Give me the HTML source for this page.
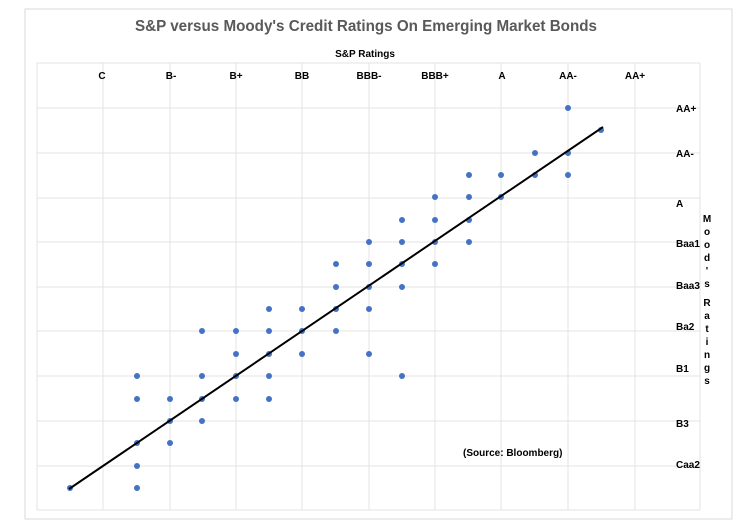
<!DOCTYPE html>
<html><head><meta charset="utf-8"><style>
body{margin:0;background:#fff;}
svg{display:block;font-family:"Liberation Sans",sans-serif;}
</style></head><body>
<svg width="750" height="529" viewBox="0 0 750 529">
<rect x="25" y="9" width="707" height="510" fill="#fff" stroke="#d9d9d9" stroke-width="1"/>
<text x="135" y="31" textLength="462" lengthAdjust="spacingAndGlyphs" font-size="16" font-weight="bold" fill="#595959">S&amp;P versus Moody's Credit Ratings On Emerging Market Bonds</text>
<text x="365" y="57" text-anchor="middle" font-size="10" font-weight="bold" fill="#000">S&amp;P Ratings</text>
<g stroke="#e3e3e3" stroke-width="1">
<line x1="37" y1="63" x2="700" y2="63"/>
<line x1="37" y1="108" x2="700" y2="108"/>
<line x1="37" y1="153" x2="700" y2="153"/>
<line x1="37" y1="198" x2="700" y2="198"/>
<line x1="37" y1="242" x2="700" y2="242"/>
<line x1="37" y1="287" x2="700" y2="287"/>
<line x1="37" y1="331" x2="700" y2="331"/>
<line x1="37" y1="376" x2="700" y2="376"/>
<line x1="37" y1="421" x2="700" y2="421"/>
<line x1="37" y1="466" x2="700" y2="466"/>
<line x1="37" y1="510" x2="700" y2="510"/>
<line x1="37" y1="63" x2="37" y2="510"/>
<line x1="103" y1="63" x2="103" y2="510"/>
<line x1="170" y1="63" x2="170" y2="510"/>
<line x1="236" y1="63" x2="236" y2="510"/>
<line x1="302" y1="63" x2="302" y2="510"/>
<line x1="369" y1="63" x2="369" y2="510"/>
<line x1="435" y1="63" x2="435" y2="510"/>
<line x1="501" y1="63" x2="501" y2="510"/>
<line x1="568" y1="63" x2="568" y2="510"/>
<line x1="635" y1="63" x2="635" y2="510"/>
<line x1="700" y1="63" x2="700" y2="510"/>
</g>
<g font-size="10" font-weight="bold" fill="#000" text-anchor="middle">
<text x="102" y="79">C</text><text x="171" y="79">B-</text><text x="236" y="79">B+</text>
<text x="302" y="79">BB</text><text x="369" y="79">BBB-</text><text x="435" y="79">BBB+</text>
<text x="502" y="79">A</text><text x="568" y="79">AA-</text><text x="635" y="79">AA+</text>
</g>
<g font-size="10" font-weight="bold" fill="#000">
<text x="676" y="112">AA+</text><text x="676" y="157">AA-</text><text x="676" y="207">A</text>
<text x="676" y="247">Baa1</text><text x="676" y="289">Baa3</text><text x="676" y="330">Ba2</text>
<text x="676" y="372">B1</text><text x="676" y="427">B3</text><text x="676" y="468">Caa2</text>
<text x="463" y="456">(Source: Bloomberg)</text>
</g>
<g font-size="10" font-weight="bold" fill="#000" text-anchor="middle">
<text x="707" y="222">M</text><text x="707" y="235">o</text><text x="707" y="248">o</text><text x="707" y="261">d</text><text x="707" y="274">'</text><text x="707" y="287">s</text>
<text x="707" y="306">R</text><text x="707" y="319">a</text><text x="707" y="332">t</text><text x="707" y="345">i</text><text x="707" y="358">n</text><text x="707" y="371">g</text><text x="707" y="384">s</text>
</g>
<g fill="#4472c4">
<circle cx="70" cy="488" r="3"/><circle cx="137" cy="488" r="3"/><circle cx="137" cy="466" r="3"/>
<circle cx="137" cy="443" r="3"/><circle cx="170" cy="443" r="3"/>
<circle cx="170" cy="421" r="3"/><circle cx="202" cy="421" r="3"/>
<circle cx="137" cy="399" r="3"/><circle cx="170" cy="399" r="3"/><circle cx="202" cy="399" r="3"/><circle cx="236" cy="399" r="3"/><circle cx="269" cy="399" r="3"/>
<circle cx="137" cy="376" r="3"/><circle cx="202" cy="376" r="3"/><circle cx="236" cy="376" r="3"/><circle cx="269" cy="376" r="3"/><circle cx="402" cy="376" r="3"/>
<circle cx="236" cy="354" r="3"/><circle cx="269" cy="354" r="3"/><circle cx="302" cy="354" r="3"/><circle cx="369" cy="354" r="3"/>
<circle cx="202" cy="331" r="3"/><circle cx="236" cy="331" r="3"/><circle cx="269" cy="331" r="3"/><circle cx="302" cy="331" r="3"/><circle cx="336" cy="331" r="3"/>
<circle cx="269" cy="309" r="3"/><circle cx="302" cy="309" r="3"/><circle cx="336" cy="309" r="3"/><circle cx="369" cy="309" r="3"/>
<circle cx="336" cy="287" r="3"/><circle cx="369" cy="287" r="3"/><circle cx="402" cy="287" r="3"/>
<circle cx="336" cy="264" r="3"/><circle cx="369" cy="264" r="3"/><circle cx="402" cy="264" r="3"/><circle cx="435" cy="264" r="3"/>
<circle cx="369" cy="242" r="3"/><circle cx="402" cy="242" r="3"/><circle cx="435" cy="242" r="3"/><circle cx="469" cy="242" r="3"/>
<circle cx="402" cy="220" r="3"/><circle cx="435" cy="220" r="3"/><circle cx="469" cy="220" r="3"/>
<circle cx="435" cy="197" r="3"/><circle cx="469" cy="197" r="3"/><circle cx="501" cy="197" r="3"/>
<circle cx="469" cy="175" r="3"/><circle cx="501" cy="175" r="3"/><circle cx="535" cy="175" r="3"/><circle cx="568" cy="175" r="3"/>
<circle cx="535" cy="153" r="3"/><circle cx="568" cy="153" r="3"/>
<circle cx="568" cy="108" r="3"/><circle cx="601" cy="130" r="3"/>
</g>
<line x1="69" y1="489" x2="603" y2="127" stroke="#000" stroke-width="2"/>
</svg>
</body></html>
